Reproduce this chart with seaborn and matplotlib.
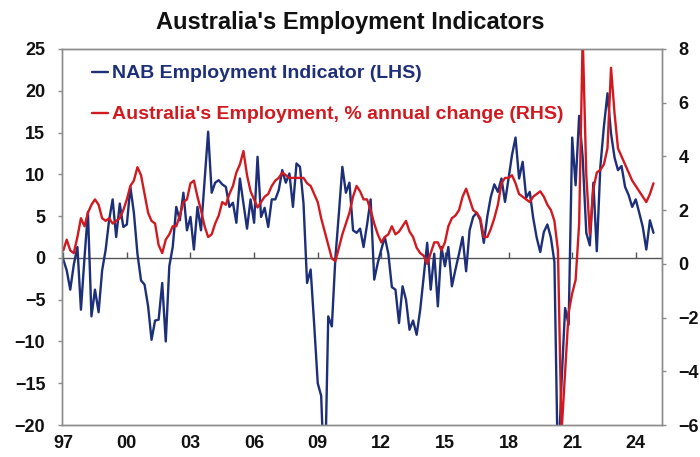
import numpy as np
import pandas as pd
import matplotlib
matplotlib.use("Agg")
import matplotlib.pyplot as plt
import seaborn as sns

# bi-monthly readings (Jan, Mar, May, Jul, Sep, Nov), Jan 1997 - Nov 2024
nab_employment = [
    -0.2, -1.5, -3.8, -0.8, 1.3, -6.2,      # 1997
    0.0, 5.5, -7.0, -3.8, -6.5, -1.5,       # 1998
    1.0, 4.5, 7.0, 2.5, 6.5, 3.7,           # 1999
    4.0, 8.5, 5.4, 0.5, -2.7, -3.2,         # 2000
    -5.8, -9.8, -7.5, -7.4, -3.0, -10.0,    # 2001
    -1.0, 1.3, 6.1, 4.5, 7.8, 3.3,          # 2002
    4.9, 1.0, 6.1, 3.3, 9.3, 15.1,          # 2003
    7.8, 9.0, 9.3, 8.8, 8.5, 6.1,           # 2004
    6.6, 4.2, 9.5, 6.5, 3.5, 7.0,           # 2005
    4.2, 12.1, 4.9, 6.0, 3.7, 7.0,          # 2006
    7.0, 8.1, 10.5, 9.0, 10.1, 6.1,         # 2007
    11.3, 10.9, 6.5, -3.0, -1.4, -8.0,      # 2008
    -15.0, -16.5, -28.0, -7.0, -8.2, 0.0,   # 2009
    5.4, 10.9, 7.8, 9.0, 3.3, 3.0,          # 2010
    3.5, 1.3, 4.0, 7.0, -2.6, -0.6,         # 2011
    1.0, 2.5, 0.5, -3.5, -3.8, -7.8,        # 2012
    -3.4, -5.0, -8.6, -7.5, -9.2, -6.2,     # 2013
    -2.2, 1.8, -3.8, 0.5, -5.8, 1.3,        # 2014
    -1.0, 1.3, -3.4, -1.4, 0.5, 2.5,        # 2015
    -1.6, 3.3, 4.9, 5.4, 4.5, 1.8,          # 2016
    5.0, 7.3, 8.8, 7.9, 9.5, 6.7,           # 2017
    9.5, 12.3, 14.4, 9.5, 11.5, 7.2,        # 2018
    7.9, 4.8, 2.4, 0.7, 3.1, 4.0,           # 2019
    2.4, -0.5, -26.0, -15.0, -6.0, -8.0,    # 2020
    14.4, 8.7, 17.0, 12.0, 3.0, 1.5,        # 2021
    9.0, 0.8, 10.9, 15.7, 19.7, 14.9,       # 2022
    12.0, 10.5, 11.0, 8.5, 7.5, 6.1,        # 2023
    7.0, 5.4, 3.7, 1.0, 4.5, 3.0,           # 2024
]

aus_employment_growth = [
    0.5, 0.9, 0.5, 0.4, 1.0, 1.7,   # 1997
    1.4, 1.9, 2.2, 2.4, 2.2, 1.7,   # 1998
    1.6, 1.7, 1.5, 1.6, 1.7, 2.0,   # 1999
    2.4, 2.9, 3.1, 3.6, 3.3, 2.6,   # 2000
    1.9, 1.6, 1.5, 0.7, 0.4, 0.9,   # 2001
    1.1, 1.4, 1.4, 1.8, 2.3, 2.4,   # 2002
    3.0, 3.1, 2.5, 2.0, 1.4, 1.0,   # 2003
    1.1, 1.5, 1.8, 2.3, 2.2, 2.6,   # 2004
    2.9, 3.4, 3.7, 4.2, 3.3, 2.7,   # 2005
    2.4, 2.1, 2.3, 2.5, 2.6, 2.9,   # 2006
    3.1, 3.2, 3.4, 3.3, 3.2, 3.2,   # 2007
    3.2, 3.2, 3.2, 3.0, 2.9, 2.6,   # 2008
    2.3, 1.7, 1.2, 0.7, 0.2, 0.1,   # 2009
    0.6, 1.1, 1.5, 1.9, 2.5, 2.9,   # 2010
    2.7, 2.4, 2.4, 2.0, 1.5, 1.1,   # 2011
    0.8, 1.0, 1.1, 1.4, 1.1, 1.2,   # 2012
    1.4, 1.6, 1.2, 1.0, 0.6, 0.4,   # 2013
    0.3, 0.0, 0.4, 0.8, 0.8, 0.5,   # 2014
    0.8, 1.4, 1.7, 1.8, 2.0, 2.5,   # 2015
    2.8, 2.4, 2.0, 1.9, 1.7, 1.0,   # 2016
    1.0, 1.3, 1.7, 2.2, 3.0, 3.2,   # 2017
    3.2, 3.3, 3.0, 2.6, 2.5, 2.4,   # 2018
    2.3, 2.5, 2.6, 2.7, 2.5, 2.2,   # 2019
    2.0, 1.6, 0.5, -6.3, -4.0, -1.8,  # 2020
    -1.1, -0.6, 1.5, 8.5, 3.3, 1.1,   # 2021
    2.8, 3.4, 3.5, 3.7, 4.3, 7.3,   # 2022
    5.6, 4.3, 4.0, 3.7, 3.4, 3.1,   # 2023
    2.9, 2.7, 2.5, 2.3, 2.6, 3.0,   # 2024
]

tick_years = list(range(1997, 2025, 3))
left_ticks = list(range(-20, 26, 5))
right_ticks = list(range(-6, 9, 2))

BLUE = "#1d2f78"
RED = "#d11a1f"
GREY = "#8c8c8c"

dates = pd.date_range("1997-01-01", periods=len(nab_employment), freq="2MS")
df = pd.DataFrame({"date": dates, "nab": nab_employment, "emp": aus_employment_growth})

sns.set_theme(style="white")
plt.rcParams["font.family"] = ["Liberation Sans", "DejaVu Sans"]

fig, ax = plt.subplots(figsize=(7, 4.57), dpi=100)
fig.subplots_adjust(left=0.0886, right=0.9457, top=0.8928, bottom=0.07)
ax2 = ax.twinx()

sns.lineplot(data=df, x="date", y="nab", ax=ax, color=BLUE, lw=1.7)
sns.lineplot(data=df, x="date", y="emp", ax=ax2, color=RED, lw=1.7)
nab_line = ax.lines[0]
emp_line = ax2.lines[0]

ax.set_ylim(-20, 25)
ax2.set_ylim(-6, 8)
ax.set_xlim(pd.Timestamp("1996-12-10"), pd.Timestamp("2025-03-28"))

# zero line with small upward ticks at each labelled year
tick_dates = [pd.Timestamp(f"{y}-01-01") for y in tick_years]
ax.axhline(0, color="#555555", lw=1.0, zorder=1)
ax.plot(tick_dates, [0] * len(tick_dates), ls="", marker=2, ms=4, mew=1.0,
        color="#555555", zorder=1)

ax.set_xticks(tick_dates)
ax.set_xticklabels([d.strftime("%y") for d in tick_dates])
ax.set_yticks(left_ticks)
ax2.set_yticks(right_ticks)
ax.set_xlabel("")
ax.set_ylabel("")
ax2.set_ylabel("")

ax.tick_params(axis="x", length=0, pad=7, labelsize=13)
ax.tick_params(axis="y", length=3, width=1, color=GREY, pad=9, labelsize=13, left=True)
ax2.tick_params(axis="y", length=3, width=1, color=GREY, pad=9, labelsize=13, right=True)
for lbl in ax.get_xticklabels() + ax.get_yticklabels() + ax2.get_yticklabels():
    lbl.set_fontweight("bold")
    lbl.set_color("#111111")

for a in (ax, ax2):
    for sp in a.spines.values():
        sp.set_visible(True)
        sp.set_color(GREY)
        sp.set_linewidth(1.0)

ax2.legend([nab_line, emp_line],
           ["NAB Employment Indicator (LHS)",
            "Australia's Employment, % annual change (RHS)"],
           loc="upper left", bbox_to_anchor=(0.05, 0.958), frameon=False,
           prop={"weight": "bold", "size": 14}, handlelength=0.8,
           handletextpad=0.25, labelspacing=1.2, borderpad=0, borderaxespad=0,
           labelcolor="linecolor")

fig.text(350 / 700, 1 - 22 / 457, "Australia's Employment Indicators",
         ha="center", va="center", fontsize=17, fontweight="bold", color="#111111")

fig.savefig("out.png", dpi=100)
